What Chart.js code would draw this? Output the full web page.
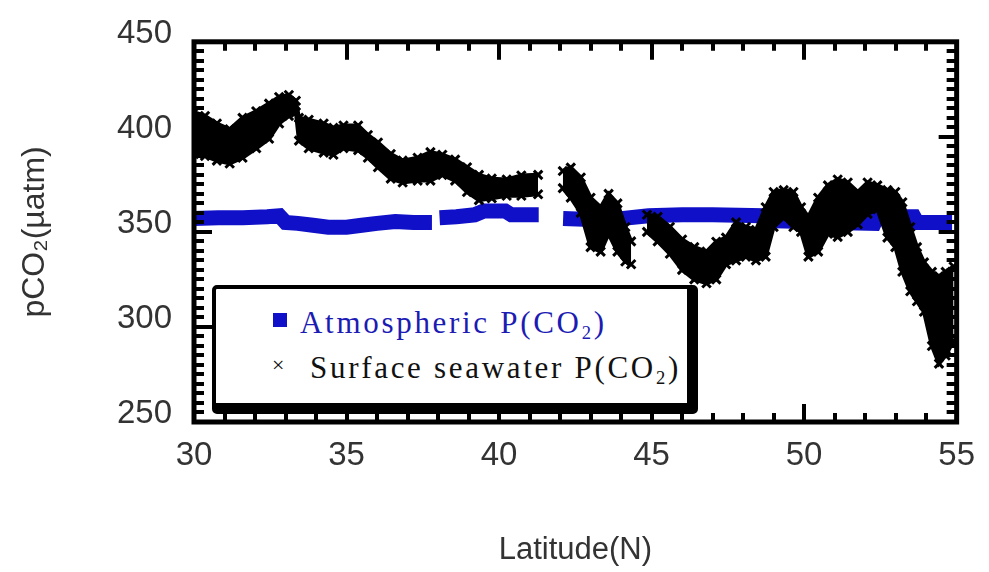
<!DOCTYPE html>
<html>
<head>
<meta charset="utf-8">
<script src="https://cdn.jsdelivr.net/npm/chart.js@4.4.1/dist/chart.umd.min.js"></script>
<style>
  html,body{margin:0;padding:0;background:#fff;}
  #wrap{position:relative;width:989px;height:572px;background:#fff;overflow:hidden;}
  #legend{position:absolute;left:212px;top:285px;width:486px;height:129px;box-sizing:border-box;
    border-style:solid;border-color:#000;border-width:4px 11px 11px 4px;border-radius:5px;background:#fff;
    font-family:"Liberation Serif","Times New Roman",serif;font-size:31px;letter-spacing:2.7px;}
  #legend .row{position:absolute;white-space:nowrap;line-height:31px;}
  #legend sub{font-size:0.6em;vertical-align:-0.3em;line-height:0;}
  #legend .sq{position:absolute;left:57px;top:24px;width:14px;height:14px;background:#1010c8;}
  #legend .xm{position:absolute;left:56px;top:62px;font-size:22px;line-height:28px;color:#111;letter-spacing:0;}
</style>
</head>
<body>
<div id="wrap">
  <canvas id="c" width="989" height="572"></canvas>
  <div id="legend">
    <div class="sq"></div>
    <div class="row" style="left:84px;top:18px;color:#1c1cb4;">Atmospheric P(CO<sub>2</sub>)</div>
    <div class="xm">×</div>
    <div class="row" style="left:94px;top:63px;color:#111;">Surface seawater P(CO<sub>2</sub>)</div>
  </div>
</div>
<script>
// ---- data ----
const atmLat = [30.0,30.8,31.6,32.4,32.8,33.0,33.4,33.9,34.4,35.0,35.5,36.0,36.6,37.2,37.8,37.9,38.05,38.6,39.2,39.5,40.2,40.4,41.3,41.7,42.1,43.0,44.0,44.9,46.0,47.0,48.6,48.8,50.0,51.0,52.3,52.4,53.6,53.7,54.85];
const atmVal = [357,357.5,357.5,358,358.5,355,354.5,353.5,352.5,352.5,353.5,354.5,355.5,355,355,null,357.5,358,359,361,361,359,359,null,357,356.5,357,358.5,359,359,358.5,356,355.5,355,354.5,358,358,355,355];

const seaLat = [30.0,30.36,30.75,31.17,31.59,32.04,32.46,32.79,33.11,33.34,33.44,33.76,34.25,34.57,34.9,35.38,35.7,36.03,36.45,36.84,37.33,37.75,38.14,38.56,38.95,39.34,39.76,40.25,40.73,41.28,
  41.7,
  42.09,42.35,42.68,43.0,43.33,43.59,43.88,44.14,44.33,
  44.6,
  44.85,45.2,45.6,46.0,46.4,46.8,47.12,47.44,47.77,48.09,48.42,48.74,49.0,49.33,49.65,49.9,50.14,50.46,50.78,51.1,51.43,51.76,52.08,52.4,52.73,52.99,53.22,53.48,53.7,53.93,54.19,54.42,54.64,54.9];
const seaHigh = [413,411,407,404,410,413.5,417.5,421,422,419,410,409,407,404.7,406,406,401,397,391,387.5,389,392,390.6,388,384,380,378,377.6,379.7,380,
  null,
  382,383.8,378.6,368,363,370,365,352.6,345,
  null,
  359,358,352.6,346,342,339.6,344.8,347,355,352.6,351,363,371,372,371,363,358,368,374.5,377.6,376,371,376,374.5,372,371,365.6,352.6,342,334,329,326.6,329,331.8];
const seaLow = [391,390,387.5,386,389,394,399,407,411,413,398,394,391.7,390.6,394,393,389,384,378,376,377,377,380,377,371,366.7,367.7,369,369,369.8,
  null,
  373,368,360,342,339.6,349,339.6,334.4,333,
  null,
  350,345,338.5,330,325,323,325,333,335,337,335,337,352.6,357.6,352.6,350,337,339.6,349,347.4,350,354,359.5,362,347,342,329,318.8,313.5,308,290,280.7,285,292.7];

const xMin = 30, xMax = 55, xMajor = 5, xMinor = 1;
const yMin = 250, yMax = 450, yMajor = 50, yMinor = 5;

const pts = (xs, ys) => xs.map((x, i) => ({x: x, y: ys[i]}));

const FONT = '"Liberation Sans", Arial, sans-serif';

const frameTicks = {
  id: 'frameTicks',
  afterDatasetsDraw(chart) {
    const {ctx, chartArea: a, scales} = chart;
    const sx = scales.x, sy = scales.y;
    ctx.save();
    ctx.strokeStyle = '#000';
    ctx.lineCap = 'butt';
    ctx.lineWidth = 4;
    ctx.beginPath();
    for (let v = xMin; v <= xMax + 1e-9; v += xMinor) {
      const px = Math.round(sx.getPixelForValue(v));
      const L = (Math.abs(v % xMajor) < 1e-9) ? 18 : 9;
      ctx.moveTo(px, a.top); ctx.lineTo(px, a.top + L);
      ctx.moveTo(px, a.bottom); ctx.lineTo(px, a.bottom - L);
    }
    for (let v = yMin; v <= yMax + 1e-9; v += yMinor) {
      const py = Math.round(sy.getPixelForValue(v));
      const L = (Math.abs(v % yMajor) < 1e-9) ? 18 : 10;
      ctx.moveTo(a.left, py); ctx.lineTo(a.left + L, py);
      ctx.moveTo(a.right, py); ctx.lineTo(a.right - L, py);
    }
    ctx.stroke();
    ctx.lineWidth = 5;
    ctx.strokeRect(a.left, a.top, a.right - a.left, a.bottom - a.top);
    ctx.restore();
  }
};

new Chart(document.getElementById('c'), {
  type: 'scatter',
  data: {
    datasets: [
      {
        label: 'Surface seawater P(CO2) upper',
        data: pts(seaLat, seaHigh),
        showLine: true, spanGaps: false,
        borderColor: '#000', borderWidth: 4,
        pointStyle: 'crossRot', pointRadius: 6, pointBorderWidth: 3,
        pointBorderColor: '#000', pointBackgroundColor: '#000',
        order: 1
      },
      {
        label: 'Surface seawater P(CO2) lower',
        data: pts(seaLat, seaLow),
        showLine: true, spanGaps: false,
        borderColor: '#000', borderWidth: 4,
        backgroundColor: '#000',
        fill: '-1',
        pointStyle: 'crossRot', pointRadius: 6, pointBorderWidth: 3,
        pointBorderColor: '#000', pointBackgroundColor: '#000',
        order: 1
      },
      {
        label: 'Atmospheric P(CO2)',
        data: pts(atmLat, atmVal),
        showLine: true, spanGaps: false,
        borderColor: '#1010c8', borderWidth: 15,
        borderCapStyle: 'butt', borderJoinStyle: 'miter',
        pointRadius: 0,
        order: 2
      }
    ]
  },
  options: {
    responsive: false,
    animation: false,
    devicePixelRatio: 1,
    layout: {padding: {top: 38, right: 24, left: 0, bottom: 0}},
    plugins: {legend: {display: false}, tooltip: {enabled: false}},
    scales: {
      x: {
        type: 'linear', min: xMin, max: xMax,
        border: {display: false},
        grid: {display: false, drawTicks: false},
        ticks: {stepSize: xMajor, padding: 14, maxRotation: 0, color: '#333',
                font: {family: FONT, size: 33}},
        title: {display: true, text: 'Latitude(N)', color: '#333',
                font: {family: FONT, size: 31}, padding: {top: 0, bottom: 3}},
        afterFit(s) { s.height = 150; }
      },
      y: {
        type: 'linear', min: yMin, max: yMax,
        border: {display: false},
        grid: {display: false, drawTicks: false},
        ticks: {stepSize: yMajor, padding: 22, labelOffset: -8, color: '#333',
                font: {family: FONT, size: 33}},
        title: {display: true, text: 'pCO₂(µatm)', color: '#333',
                font: {family: FONT, size: 32}, padding: {top: 16, bottom: 0}},
        afterFit(s) { s.width = 194; }
      }
    }
  },
  plugins: [frameTicks]
});
</script>
</body>
</html>
